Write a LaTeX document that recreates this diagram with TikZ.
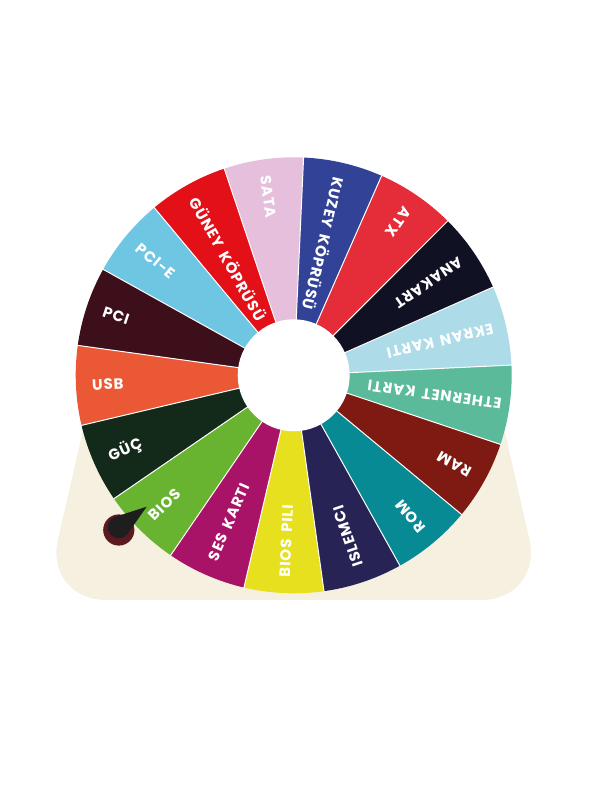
\documentclass[tikz,border=0pt]{standalone}
\usepackage{fontspec}
\setmainfont{Poppins}[LetterSpace=6,WordSpace=1.6]
\usepackage{tikz}
\definecolor{sata}{HTML}{E5BFDC}
\definecolor{guney}{HTML}{E31017}
\definecolor{pcie}{HTML}{6FC6E2}
\definecolor{pci}{HTML}{3C0F1A}
\definecolor{usb}{HTML}{EB5835}
\definecolor{guc}{HTML}{13291A}
\definecolor{bios}{HTML}{68B32F}
\definecolor{ses}{HTML}{A91367}
\definecolor{pili}{HTML}{E6E01E}
\definecolor{islemci}{HTML}{282355}
\definecolor{rom}{HTML}{078A94}
\definecolor{ram}{HTML}{7E1A12}
\definecolor{ether}{HTML}{5BBA9A}
\definecolor{ekran}{HTML}{ADDBE7}
\definecolor{anakart}{HTML}{111124}
\definecolor{atx}{HTML}{E52D3A}
\definecolor{kuzey}{HTML}{324397}
\definecolor{base}{HTML}{F5F0DF}
\definecolor{knob}{HTML}{5C1A1E}
\definecolor{needle}{HTML}{1E1E1E}

\begin{document}
\begin{tikzpicture}[x=1bp,y=1bp,lbl/.style={text=white,font=\bfseries\fontsize{15bp}{15bp}\selectfont,anchor=west,inner sep=0pt},sep/.style={draw=white,line width=1bp}]
\useasboundingbox (-293.7,-416.7) rectangle (318.3,375.3);
\fill[base,rounded corners=62bp] (-193.6,20) -- (-249.6,-224.7) -- (249.6,-224.7) -- (193.6,20) -- cycle;
\fill[sata] (0,0) -- (87.40:218) arc[start angle=87.40,end angle=108.58,radius=218] -- cycle;
\fill[guney] (0,0) -- (108.58:218) arc[start angle=108.58,end angle=129.75,radius=218] -- cycle;
\fill[pcie] (0,0) -- (129.75:218) arc[start angle=129.75,end angle=150.93,radius=218] -- cycle;
\fill[pci] (0,0) -- (150.93:218) arc[start angle=150.93,end angle=172.11,radius=218] -- cycle;
\fill[usb] (0,0) -- (172.11:218) arc[start angle=172.11,end angle=193.28,radius=218] -- cycle;
\fill[guc] (0,0) -- (193.28:218) arc[start angle=193.28,end angle=214.46,radius=218] -- cycle;
\fill[bios] (0,0) -- (214.46:218) arc[start angle=214.46,end angle=235.64,radius=218] -- cycle;
\fill[ses] (0,0) -- (235.64:218) arc[start angle=235.64,end angle=256.81,radius=218] -- cycle;
\fill[pili] (0,0) -- (256.81:218) arc[start angle=256.81,end angle=277.99,radius=218] -- cycle;
\fill[islemci] (0,0) -- (277.99:218) arc[start angle=277.99,end angle=299.16,radius=218] -- cycle;
\fill[rom] (0,0) -- (299.16:218) arc[start angle=299.16,end angle=320.34,radius=218] -- cycle;
\fill[ram] (0,0) -- (320.34:218) arc[start angle=320.34,end angle=341.52,radius=218] -- cycle;
\fill[ether] (0,0) -- (341.52:218) arc[start angle=341.52,end angle=362.69,radius=218] -- cycle;
\fill[ekran] (0,0) -- (2.69:218) arc[start angle=2.69,end angle=23.87,radius=218] -- cycle;
\fill[anakart] (0,0) -- (23.87:218) arc[start angle=23.87,end angle=45.05,radius=218] -- cycle;
\fill[atx] (0,0) -- (45.05:218) arc[start angle=45.05,end angle=66.22,radius=218] -- cycle;
\fill[kuzey] (0,0) -- (66.22:218) arc[start angle=66.22,end angle=87.40,radius=218] -- cycle;
% white gaps between the slices
\foreach \a in {87.40,108.58,129.75,150.93,172.11,193.28,214.46,235.64,256.81,277.99,299.16,320.34,341.52,2.69,23.87,45.05,66.22}
  \draw[sep] (\a:50) -- (\a:218.5);
\fill[white] (0,0) circle[radius=56];
\node[lbl,rotate=278.0] (sata) at (97.99:202) {SATA};
\node[lbl,rotate=299.2] (guney) at (119.17:203) {GÜNEY KÖPRÜSÜ};
\node[lbl,rotate=320.3] (pcie) at (140.34:202) {PCI-E};
\node[lbl,rotate=341.5] (pci) at (161.52:201) {PCI};
\node[lbl,rotate=2.7] (usb) at (182.70:202) {USB};
\node[lbl,rotate=23.9] (guc) at (203.87:202) {GÜÇ};
\node[lbl,rotate=45.0] (bios) at (225.05:202) {BIOS};
\node[lbl,rotate=66.2] (ses) at (246.23:202) {SES KARTI};
\node[lbl,rotate=87.4] (pili) at (267.40:202) {BIOS PILI};
\node[lbl,rotate=108.6] (islemci) at (288.58:202) {ISLEMCI};
\node[lbl,rotate=129.8] (rom) at (309.75:202) {ROM};
\node[lbl,rotate=150.9] (ram) at (330.93:202) {RAM};
\node[lbl,rotate=172.1] (ether) at (352.11:210) {ETHERNET KARTI};
\node[lbl,rotate=193.3] (ekran) at (13.28:205) {EKRAN KARTI};
\node[lbl,rotate=214.5] (anakart) at (34.46:203) {ANAKART};
\node[lbl,rotate=235.6] (atx) at (55.64:202) {ATX};
\node[lbl,rotate=256.8] (kuzey) at (76.81:203) {KUZEY KÖPRÜSÜ};
% pointer
\coordinate (hub) at (-174.9,-154.7);
\coordinate (dk) at (-175.0,-152.0);
\coordinate (tip) at (-147.0,-131.4);
\fill[knob] (hub) circle[radius=15.6];
\fill[needle] (tip) -- ([shift={(107.85:11)}]dk) arc[start angle=107.85,end angle=324.75,radius=11] -- cycle;
\end{tikzpicture}
\end{document}
